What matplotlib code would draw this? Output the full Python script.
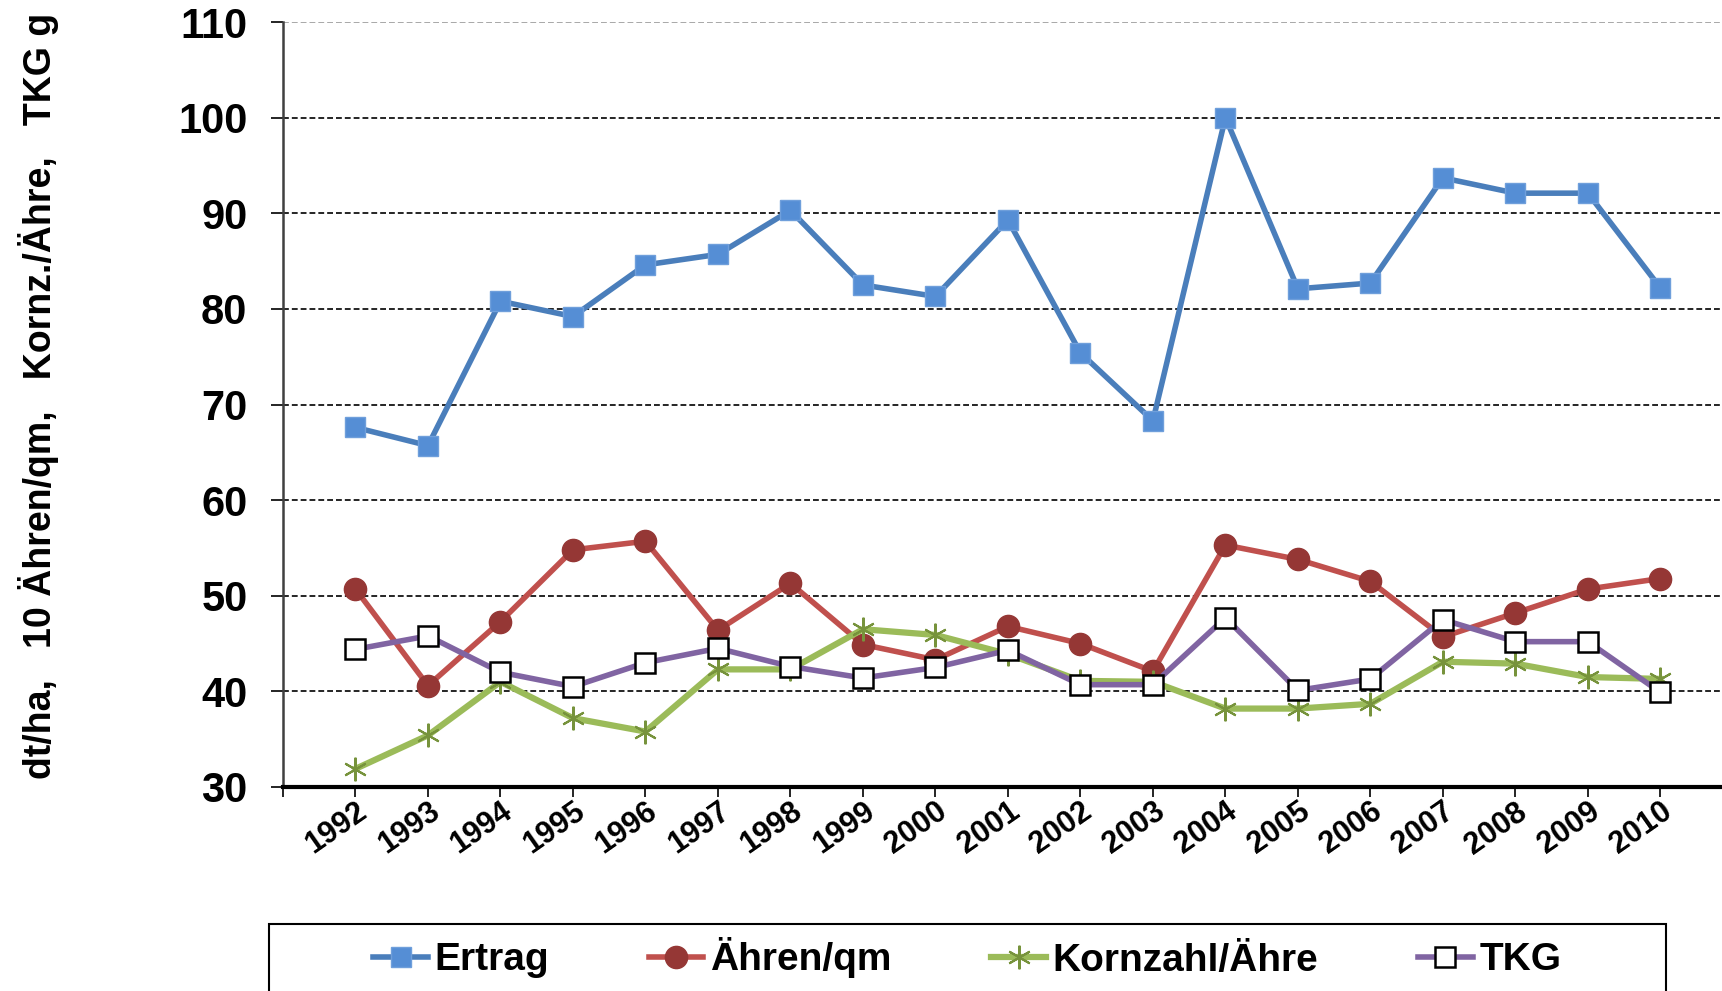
import matplotlib.pyplot as plt
from matplotlib.patches import Rectangle
from matplotlib.transforms import ScaledTranslation

plt.rcParams['font.family'] = ['Liberation Sans', 'DejaVu Sans']
plt.rcParams['font.weight'] = 'bold'

years = list(range(1992, 2011))

ertrag = [67.6, 65.7, 80.8, 79.2, 84.6, 85.7, 90.3, 82.5, 81.3, 89.3,
          75.4, 68.3, 100.0, 82.1, 82.7, 93.7, 92.1, 92.1, 82.2]
aehren = [50.7, 40.6, 47.3, 54.8, 55.7, 46.4, 51.3, 44.9, 43.3, 46.8,
          45.0, 42.1, 55.3, 53.8, 51.5, 45.7, 48.2, 50.7, 51.8]
kornzahl = [31.9, 35.4, 41.0, 37.2, 35.8, 42.3, 42.3, 46.5, 45.9, 43.9,
            41.1, 41.0, 38.2, 38.2, 38.7, 43.1, 42.9, 41.5, 41.3]
tkg = [44.4, 45.8, 42.0, 40.5, 43.0, 44.5, 42.6, 41.4, 42.5, 44.3,
       40.7, 40.7, 47.7, 40.1, 41.3, 47.5, 45.2, 45.2, 39.9]

labels = ["Ertrag", "Ähren/qm", "Kornzahl/Ähre", "TKG"]
y_label = "dt/ha,   10 Ähren/qm,   Kornz./Ähre,   TKG g"

W, H = 1722, 991
fig = plt.figure(figsize=(W / 100, H / 100), dpi=100)
ax = fig.add_axes([283 / W, 1 - 787 / H, 1 - 283 / W, (787 - 22) / H])

ax.plot(years, ertrag, color="#4A7EBB", lw=4, marker="s", ms=14.5,
        mfc="#558ED5", mec="#6F9FDB", mew=1, label=labels[0])
ax.plot(years, aehren, color="#C0504D", lw=4, marker="o", ms=16,
        mfc="#953735", mec="#953735", label=labels[1])
ax.plot(years, kornzahl, color="#9BBB59", lw=4.5, marker=(6, 2, 0), ms=17,
        mec="#77933C", mew=1.5, label=labels[2])
ax.plot(years, tkg, color="#8064A2", lw=4, marker="s", ms=15,
        mfc="white", mec="black", mew=1.8, label=labels[3])

ax.set_xlim(1991, 2010.85)
ax.set_ylim(30, 110)
ax.set_yticks(range(30, 111, 10))
ax.set_xticks([1991] + years)
ax.set_xticklabels([""] + [str(y) for y in years], rotation=35,
                   ha="right", va="top", rotation_mode="anchor",
                   fontsize=22, fontweight="bold")
for lab in ax.get_xticklabels():
    lab.set_transform(lab.get_transform() +
                      ScaledTranslation(-0.04, -0.3, fig.dpi_scale_trans))

ax.tick_params(axis="y", direction="out", length=8.6, width=1.2,
               labelsize=30, pad=17)
ax.tick_params(axis="x", direction="out", length=7, width=1.2, pad=0)
for lab in ax.get_yticklabels():
    lab.set_fontweight("bold")

for v in range(40, 101, 10):
    ax.axhline(v, color="black", lw=1.2, ls=(0, (3.5, 1.8)), zorder=0)
ax.axhline(110, color="#999999", lw=1.2, ls=(0, (3.5, 1.8)), zorder=0)

ax.spines["top"].set_visible(False)
ax.spines["right"].set_visible(False)
ax.spines["left"].set_color("#404040")
ax.spines["left"].set_linewidth(1.8)
ax.spines["bottom"].set_linewidth(3)

fig.text(39 / W, 1 - 396 / H, y_label, rotation=90, ha="center",
         va="center", fontsize=27, fontweight="bold")

fig.patches.append(Rectangle((269 / W, -0.05), (1666 - 269) / W,
                             1 - 924 / H + 0.05, transform=fig.transFigure,
                             fill=False, ec="black", lw=1.5))
fig.legend(loc="center", bbox_to_anchor=(0.5 * (269 + 1666) / W, 1 - 958 / H),
           ncol=4, frameon=False, prop={"size": 28, "weight": "bold"},
           handlelength=1.4, handletextpad=0.18, columnspacing=2.56)

fig.savefig("out.png", dpi=100)
